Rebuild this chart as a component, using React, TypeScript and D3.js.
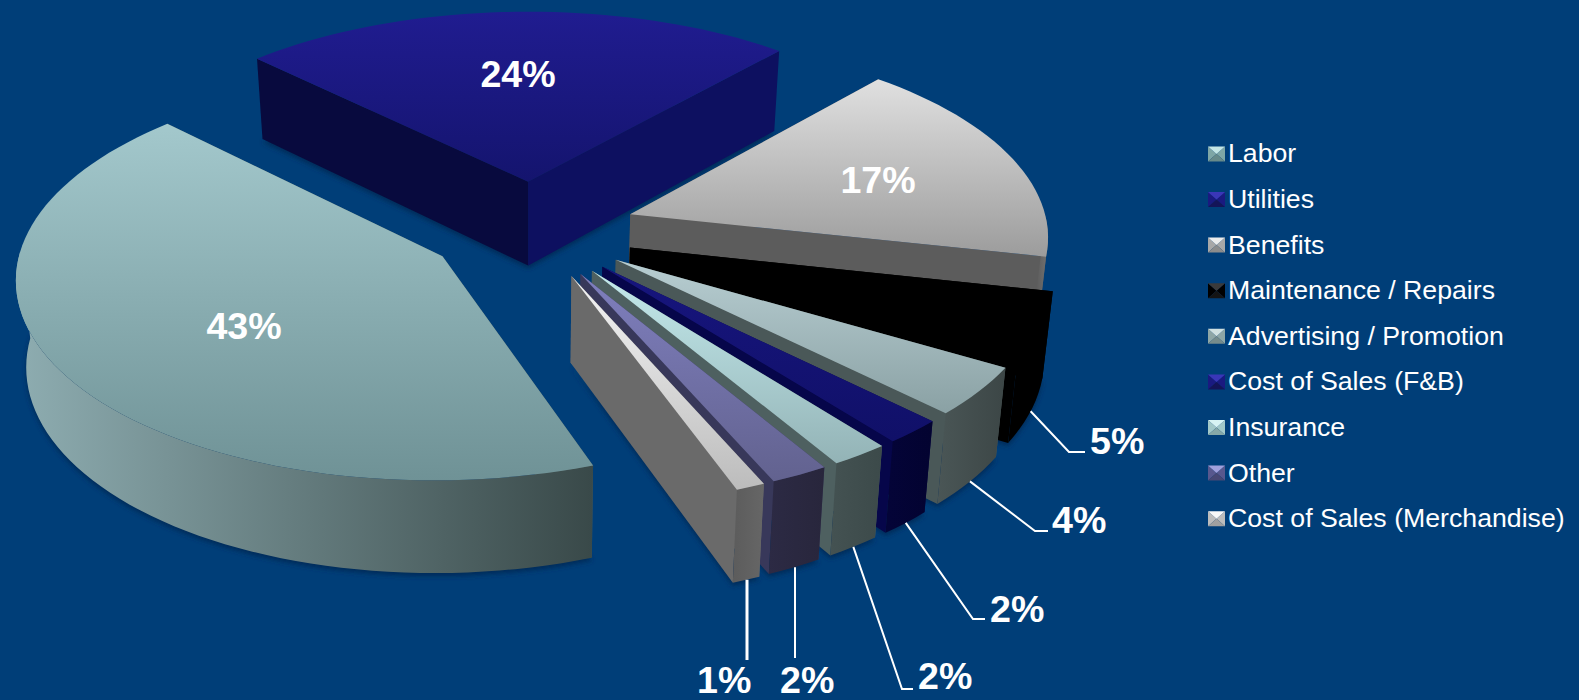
import React from "react";
import * as d3 from "d3";

// Expense breakdown
const categories = [
  "Labor",
  "Utilities",
  "Benefits",
  "Maintenance / Repairs",
  "Advertising / Promotion",
  "Cost of Sales (F&B)",
  "Insurance",
  "Other",
  "Cost of Sales (Merchandise)",
];
const shares = [43, 24, 17, 5, 4, 2, 2, 2, 1];

// Face colours per category: top gradient, wall shades and legend bevel
const topColors = [
  ["#a3c8cc", "#6f9296"],
  ["#201c90", "#14146e"],
  ["#e0e0e0", "#9c9c9c"],
  ["#000000", "#000000"],
  ["#b8ced2", "#8aa1a4"],
  ["#17157e", "#101068"],
  ["#c4eaec", "#93b3b6"],
  ["#7f7fbe", "#62628f"],
  ["#f4f4f4", "#bcbcbc"],
];
const startWallColors = ["#4a5c5c", "#080a3e", "#5a5a5a", "#000000", "#4a5858", "#06064a", "#4e6060", "#38385a", "#6a6a6a"];
const endWallColors = ["#4a5c5c", "#0d1060", "#5c5c5c", "#000000", "#4a5858", "#06064a", "#4e6060", "#38385a", "#6a6a6a"];
const outerWallColors = [
  ["#8eadb1", "#394949"],
  ["#0d1060", "#0d1060"],
  ["#5a5a5a", "#727272"],
  ["#000000", "#000000"],
  ["#4a5656", "#3c4646"],
  ["#040438", "#030330"],
  ["#445252", "#3c4a4a"],
  ["#2c2a44", "#28263c"],
  ["#5c5c5c", "#666666"],
];
const bevelColors = [
  ["#c4e6e6", "#7ea6a6", "#678a8a"],
  ["#3a36b8", "#1a1a80", "#141458"],
  ["#ececec", "#a8a8a8", "#8c8c8c"],
  ["#3a3a3a", "#000000", "#141414"],
  ["#d0e0e0", "#8ea6a6", "#768c8c"],
  ["#3a36b8", "#1a1a80", "#141458"],
  ["#d8f4f4", "#a2c8c8", "#86a8a8"],
  ["#a0a0dc", "#58588e", "#484874"],
  ["#f8f8f8", "#bcbcbc", "#a0a0a0"],
];

// Callout placement: percentage label anchor and leader route for the small slices
const insideLabels = [
  { slice: 0, x: 244, y: 339 },
  { slice: 1, x: 518, y: 87 },
  { slice: 2, x: 878, y: 193 },
];
const callouts = [
  { slice: 3, textX: 1090, textY: 454, elbow: [[1069, 452], [1085, 452]] },
  { slice: 4, textX: 1052, textY: 533, elbow: [[1035, 531], [1048, 531]] },
  { slice: 5, textX: 990, textY: 622, elbow: [[973, 619], [985, 619]] },
  { slice: 6, textX: 918, textY: 689, elbow: [[902, 689], [913, 689]] },
  { slice: 7, textX: 780, textY: 693, elbow: [[795, 658]], vertical: true },
  { slice: 8, textX: 697, textY: 693, elbow: [[747, 660]], vertical: true },
];

const WIDTH = 1579;
const HEIGHT = 700;
const BG = "#003e78";
const FONT = "'Liberation Sans', Arial, sans-serif";

// Perspective pie: screen centre, radii, foreshortening per axis and explosion distance
const CX = 531.7;
const CY = 229.5;
const RX = 418;
const RY = 196;
const KX = 0.0975;
const KY = 0.1;
const EXPLODE = 0.25;
const CONVERGE = 0.02;
const START_ANGLE = 160;
const rad = (deg: number) => (deg * Math.PI) / 180;

const depth = d3.scaleLinear().domain([50, 490]).range([80, 93]);
const linePath = d3.line<number[]>().x((d) => d[0]).y((d) => d[1]);

const arcs = d3
  .pie<number>()
  .sort(null)
  .startAngle(rad(START_ANGLE))
  .endAngle(rad(START_ANGLE) + 2 * Math.PI)(shares);

type Pt = [number, number];

// Ground coordinates (unit pie) to screen pixels
const project = (gx: number, gy: number): Pt => [
  CX + (RX * gx) / (1 + KX * gy),
  CY - (RY * gy) / (1 + KY * gy),
];

const drop = ([x, y]: Pt): Pt => [x + (CX - x) * CONVERGE, y + depth(y)];

const slices = arcs.map((arc, i) => {
  const mid = (arc.startAngle + arc.endAngle) / 2;
  const ex = EXPLODE * Math.sin(mid);
  const ey = EXPLODE * Math.cos(mid);
  const apex = project(ex, ey);
  const n = Math.max(4, Math.ceil(((arc.endAngle - arc.startAngle) * 180) / Math.PI / 2));
  const angles = d3.range(n + 1).map((k) => arc.startAngle + ((arc.endAngle - arc.startAngle) * k) / n);
  const rim = angles.map((a) => project(ex + Math.sin(a), ey + Math.cos(a)));
  const rimLow = rim.map(drop);
  const apexLow = drop(apex);
  // Only the part of the rim turned towards the viewer gets a curved wall
  const frontRim = rim.filter((_, k) => Math.cos(angles[k]) <= 0.02);
  const midLow = drop(project(ex + Math.sin(mid), ey + Math.cos(mid)));
  return {
    i,
    top: [apex, ...rim],
    startWall: [apex, rim[0], rimLow[0], apexLow],
    endWall: [apex, rim[n], rimLow[n], apexLow],
    outer: frontRim.length > 1 ? [...frontRim, ...frontRim.map(drop).reverse()] : null,
    footprint: [apexLow, ...rimLow],
    midLow,
  };
});

// Back-to-front paint order
const paintOrder = [1, 0, 2, 3, 4, 5, 6, 7, 8];

const closed = (pts: number[][]) => `${linePath(pts)}Z`;

function Swatch({ i, y }: { i: number; y: number }) {
  const x0 = 1208;
  const w = 17;
  const h = 15;
  const c: Pt = [x0 + w / 2, y + h / 2];
  const [light, side, dark] = bevelColors[i];
  const tl: Pt = [x0, y];
  const tr: Pt = [x0 + w, y];
  const br: Pt = [x0 + w, y + h];
  const bl: Pt = [x0, y + h];
  return (
    <g>
      <path d={closed([tl, bl, c])} fill={side} />
      <path d={closed([tr, br, c])} fill={side} />
      <path d={closed([bl, br, c])} fill={dark} />
      <path d={closed([tl, tr, c])} fill={light} />
    </g>
  );
}

export default function App() {
  return (
    <svg
      width={WIDTH}
      height={HEIGHT}
      style={{ position: "absolute", left: 0, top: 0, display: "block", background: BG }}
    >
      <defs>
        <filter id="softShadow" x="-10%" y="-10%" width="120%" height="120%">
          <feGaussianBlur stdDeviation="2.5" />
        </filter>
        {categories.map((_, i) => (
          <React.Fragment key={i}>
            <linearGradient id={`top${i}`} x1="0" y1="0" x2="0" y2="1">
              <stop offset="0" stopColor={topColors[i][0]} />
              <stop offset="1" stopColor={topColors[i][1]} />
            </linearGradient>
            <linearGradient id={`outer${i}`} x1="0" y1="0" x2="1" y2="0">
              <stop offset="0" stopColor={outerWallColors[i][0]} />
              <stop offset="1" stopColor={outerWallColors[i][1]} />
            </linearGradient>
          </React.Fragment>
        ))}
      </defs>

      {/* Soft contact shadow under the slices */}
      <g filter="url(#softShadow)" transform="translate(0,3)">
        {slices.map((s) => (
          <path key={s.i} d={closed(s.footprint)} fill="#002c58" />
        ))}
      </g>

      {paintOrder.map((idx) => {
        const s = slices[idx];
        return (
          <g key={idx}>
            <path d={closed(s.startWall)} fill={startWallColors[idx]} />
            <path d={closed(s.endWall)} fill={endWallColors[idx]} />
            {s.outer && <path d={closed(s.outer)} fill={`url(#outer${idx})`} />}
            <path d={closed(s.top)} fill={`url(#top${idx})`} />
          </g>
        );
      })}

      {/* Leader lines */}
      {callouts.map((c) => {
        const low = slices[c.slice].midLow;
        const from = c.vertical ? [c.elbow[0][0], low[1]] : low;
        return (
          <path
            key={c.slice}
            d={linePath([from, ...c.elbow]) as string}
            fill="none"
            stroke="#fff"
            strokeWidth={c.slice === 8 ? 3 : 2}
          />
        );
      })}

      <g fontFamily={FONT} fontWeight="bold" fontSize={37.6} fill="#fff">
        {insideLabels.map((l) => (
          <text key={l.slice} x={l.x} y={l.y} textAnchor="middle">
            {shares[l.slice]}%
          </text>
        ))}
        {callouts.map((c) => (
          <text key={c.slice} x={c.textX} y={c.textY}>
            {shares[c.slice]}%
          </text>
        ))}
      </g>

      {/* Legend */}
      <g fontFamily={FONT} fontSize={26.7} fill="#fff">
        {categories.map((name, i) => {
          const baseline = 162.4 + i * 45.6;
          return (
            <g key={name}>
              <Swatch i={i} y={baseline - 16} />
              <text x={1228} y={baseline}>
                {name}
              </text>
            </g>
          );
        })}
      </g>
    </svg>
  );
}
